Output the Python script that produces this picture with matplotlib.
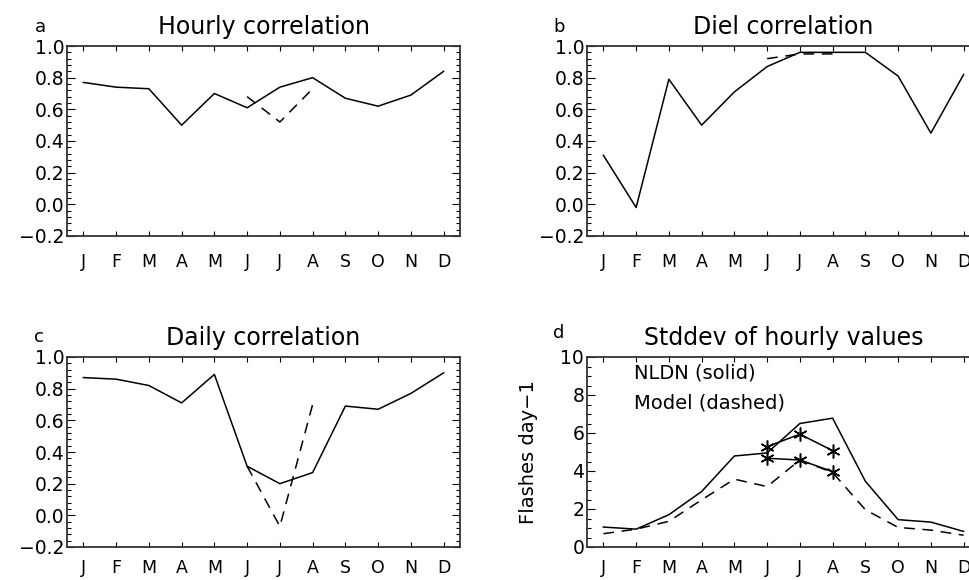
import numpy as np
import matplotlib
matplotlib.use("Agg")
import matplotlib.pyplot as plt
from matplotlib.ticker import MultipleLocator

nan = np.nan
months = ["J", "F", "M", "A", "M", "J", "J", "A", "S", "O", "N", "D"]

# correlation between NLDN and model, per month
hourly_nldn = [0.77, 0.74, 0.73, 0.50, 0.70, 0.61, 0.74, 0.80, 0.67, 0.62, 0.69, 0.84]
hourly_alt = [nan, nan, nan, nan, nan, 0.68, 0.52, 0.73, nan, nan, nan, nan]

diel_nldn = [0.31, -0.02, 0.79, 0.50, 0.71, 0.87, 0.96, 0.96, 0.96, 0.81, 0.45, 0.82]
diel_alt = [nan, nan, nan, nan, nan, 0.92, 0.95, 0.95, nan, nan, nan, nan]

daily_nldn = [0.87, 0.86, 0.82, 0.71, 0.89, 0.31, 0.20, 0.27, 0.69, 0.67, 0.77, 0.90]
daily_alt = [nan, nan, nan, nan, nan, 0.31, -0.07, 0.70, nan, nan, nan, nan]

# standard deviation of hourly flash rates
std_nldn = [1.05, 0.94, 1.70, 2.92, 4.79, 4.95, 6.50, 6.78, 3.46, 1.44, 1.31, 0.82]
std_model = [0.70, 0.94, 1.35, 2.48, 3.57, 3.18, 4.58, 3.92, 1.96, 1.03, 0.89, 0.62]
std_star_hi = [nan, nan, nan, nan, nan, 5.28, 5.94, 5.07, nan, nan, nan, nan]
std_star_lo = [nan, nan, nan, nan, nan, 4.67, 4.58, 3.97, nan, nan, nan, nan]

fig = plt.figure(figsize=(9.69, 5.8), dpi=100)
W, H = 969.0, 580.0

def box(left, top, right, bottom):
    return [left / W, 1 - bottom / H, (right - left) / W, (bottom - top) / H]

axes = {
    "a": fig.add_axes(box(67, 46, 460, 236)),
    "b": fig.add_axes(box(587, 46, 980, 236)),
    "c": fig.add_axes(box(67, 357, 460, 547)),
    "d": fig.add_axes(box(587, 357, 980, 547)),
}

x = np.arange(12)
dash = (7, 5)

def style(ax, title, ylim, major, minor, xpad):
    ax.set_xlim(-0.5, 11.5)
    ax.set_ylim(*ylim)
    ax.set_xticks(x)
    ax.set_xticklabels(months)
    ax.yaxis.set_major_locator(MultipleLocator(major))
    ax.yaxis.set_minor_locator(MultipleLocator(minor))
    ax.tick_params(axis="x", direction="in", top=True, length=3.5, width=0.8,
                   pad=xpad, labelsize=12.5)
    ax.tick_params(axis="y", which="major", direction="in", right=True,
                   length=6, width=0.8, pad=2, labelsize=13.5)
    ax.tick_params(axis="y", which="minor", direction="in", right=True,
                   length=3, width=0.8)
    for s in ax.spines.values():
        s.set_linewidth(1.3)
        s.set_color("#333333")
    ax.set_title(title, fontsize=17, pad=8.5)

corr_fmt = matplotlib.ticker.FuncFormatter(lambda v, p: f"{v:.1f}".replace("-", "\u2212"))

panels = [
    ("a", "Hourly correlation", hourly_nldn, hourly_alt, 12),
    ("b", "Diel correlation", diel_nldn, diel_alt, 12),
    ("c", "Daily correlation", daily_nldn, daily_alt, 8.5),
]
for key, title, solid, dashed, xpad in panels:
    ax = axes[key]
    ax.plot(x, solid, color="black", lw=1.1)
    ax.plot(x, dashed, color="black", lw=1.1, dashes=dash)
    style(ax, title, (-0.2, 1.0), 0.2, 0.04, xpad)
    ax.yaxis.set_major_formatter(corr_fmt)

ax = axes["d"]
ax.plot(x, std_nldn, color="black", lw=1.1)
ax.plot(x, std_model, color="black", lw=1.1, dashes=dash)
ax.plot(x, std_star_hi, color="black", lw=1.1, marker=(6, 2, 0), ms=10, mew=1.1)
ax.plot(x, std_star_lo, color="black", lw=1.1, marker=(6, 2, 0), ms=10, mew=1.1)
style(ax, "Stddev of hourly values", (0, 10), 2, 0.5, 8.5)
ax.text(0.12, 0.915, "NLDN (solid)", transform=ax.transAxes, fontsize=14,
        va="center", ha="left")
ax.text(0.12, 0.757, "Model (dashed)", transform=ax.transAxes, fontsize=14,
        va="center", ha="left")
fig.text(528 / W, 1 - 452 / H, "Flashes day\u22121", rotation=90, fontsize=14,
         ha="center", va="center")

# panel letters
for key, (px, py) in {"a": (40, 27), "b": (559, 27), "c": (39, 337), "d": (559, 333)}.items():
    fig.text(px / W, 1 - py / H, key, fontsize=13, ha="center", va="center")

fig.savefig("out.png", dpi=100)
